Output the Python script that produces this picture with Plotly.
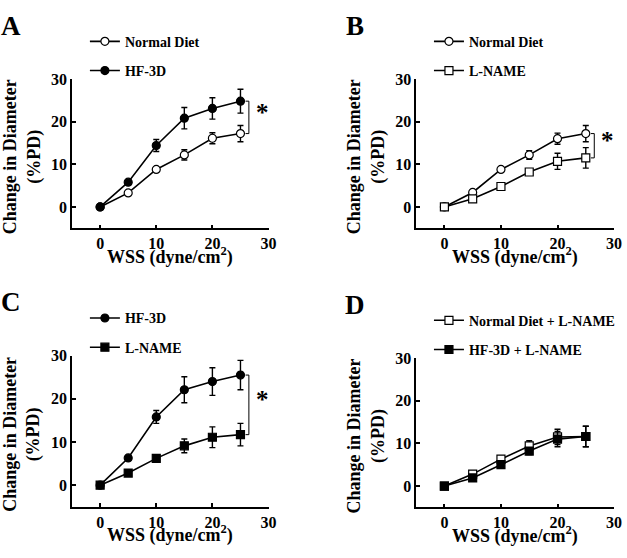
import plotly.graph_objects as go

W, H = 627, 558
FONT = "Liberation Serif"

wss = [0, 5, 10, 15, 20, 25]

a_nd = [0, 3.3, 8.8, 12.2, 16.1, 17.2]
a_nd_err = [0, 0.3, 0.4, 1.2, 1.3, 1.9]
a_hf = [0, 5.8, 14.4, 20.8, 23.1, 24.8]
a_hf_err = [0, 0.4, 1.4, 2.5, 2.5, 2.8]

b_nd = [0, 3.4, 8.8, 12.2, 16.0, 17.2]
b_nd_err = [0, 0.3, 0.4, 1.0, 1.3, 1.9]
b_ln = [0, 1.9, 4.8, 8.2, 10.7, 11.5]
b_ln_err = [0, 0.3, 0.5, 0.6, 1.9, 2.4]

c_hf = [0, 6.3, 15.8, 22.1, 24.0, 25.5]
c_hf_err = [0, 0.4, 1.5, 3.0, 3.2, 3.4]
c_ln = [0, 2.8, 6.2, 9.1, 11.1, 11.7]
c_ln_err = [0, 0.3, 0.5, 1.6, 2.4, 2.6]

d_ndln = [0, 2.8, 6.3, 9.4, 11.5, 11.6]
d_ndln_err = [0, 0.3, 0.5, 1.2, 1.8, 2.4]
d_hfln = [0, 1.9, 5.0, 8.2, 11.0, 11.6]
d_hfln_err = [0, 0.3, 0.5, 0.8, 1.8, 2.4]

tick_vals = [0, 10, 20, 30]
axis_range = [-5, 30]

panels = [
    ("A", "", "legend", [("Normal Diet", a_nd, a_nd_err, "circle", False),
                         ("HF-3D", a_hf, a_hf_err, "circle", True)], True),
    ("B", "2", "legend2", [("Normal Diet", b_nd, b_nd_err, "circle", False),
                           ("L-NAME", b_ln, b_ln_err, "square", False)], True),
    ("C", "3", "legend3", [("HF-3D", c_hf, c_hf_err, "circle", True),
                           ("L-NAME", c_ln, c_ln_err, "square", True)], True),
    ("D", "4", "legend4", [("Normal Diet + L-NAME", d_ndln, d_ndln_err, "square", False),
                           ("HF-3D + L-NAME", d_hfln, d_hfln_err, "square", True)], False),
]

# pixel layout of plot areas: (left, right, top, bottom)
boxes = [
    (73, 272, 72, 223.5),
    (421.5, 622, 72, 223.5),
    (73, 272, 352.7, 506),
    (421.5, 622, 355, 506.7),
]

fig = go.Figure()
layout = {}
annotations = []
shapes = []

tickfont = dict(family=FONT, size=16, color="black", weight="bold")

for i, ((letter, sfx, leg, series, sig), (l, r, t, b)) in enumerate(zip(panels, boxes)):
    xa = "x" + sfx
    ya = "y" + sfx
    for name, vals, err, sym, filled in series:
        fig.add_trace(go.Scatter(
            x=wss, y=vals, name=name, mode="lines+markers",
            xaxis=xa, yaxis=ya, legend=leg, legendgroup=f"{leg}-{name}",
            line=dict(color="black", width=1.6),
            marker=dict(symbol=sym, size=8,
                        color="black" if filled else "white",
                        line=dict(color="black", width=1.2)),
            error_y=dict(type="data", array=err, visible=True, color="black",
                         thickness=1.4, width=3),
        ))
    base = dict(showline=True, linecolor="black", linewidth=1.5, showgrid=False, zeroline=False,
                range=axis_range, tickvals=tick_vals, tickfont=tickfont,
                ticks="inside", ticklen=4, tickwidth=1.5, tickcolor="black")
    layout["xaxis" + sfx] = dict(domain=[l / W, r / W], anchor=ya, **base)
    layout["yaxis" + sfx] = dict(domain=[1 - b / H, 1 - t / H], anchor=xa, ticksuffix=" ", **base)

    layout[leg] = dict(x=(l + 13) / W, y=1 - (t - 54) / H, xanchor="left", yanchor="top",
                       bgcolor="rgba(0,0,0,0)", traceorder="grouped", tracegroupgap=8,
                       font=dict(family=FONT, size=14, color="black", weight="bold"))
    annotations.append(dict(text=letter, xref="paper", yref="paper", x=(l - 62) / W, y=1 - (t - 54) / H,
                            xanchor="center", yanchor="middle", showarrow=False,
                            font=dict(family=FONT, size=27, color="black", weight="bold")))
    annotations.append(dict(text="Change in Diameter<br>(%PD)", xref="paper", yref="paper",
                            x=(l - 51) / W, y=1 - ((t + b) / 2 + 3) / H, textangle=-90,
                            xanchor="center", yanchor="middle", showarrow=False,
                            font=dict(family=FONT, size=18, color="black", weight="bold")))
    annotations.append(dict(text="WSS (dyne/cm<sup>2</sup>)", xref="paper", yref="paper",
                            x=(l + r) / 2 / W, y=1 - (b + 28) / H,
                            xanchor="center", yanchor="middle", showarrow=False,
                            font=dict(family=FONT, size=18, color="black", weight="bold")))
    if sig:
        top = max(s[1][-1] for s in series)
        bot = min(s[1][-1] for s in series)
        bx = wss[-1] + 1.5
        shapes.append(dict(type="path", xref=xa, yref=ya,
                           path=f"M {bx-0.6},{top} L {bx},{top} L {bx},{bot} L {bx-0.6},{bot}",
                           line=dict(color="black", width=1)))
        annotations.append(dict(text="*", xref=xa, yref=ya, x=bx + 2.4, y=(top + bot) / 2 + 1.2,
                                xanchor="center", yanchor="middle", showarrow=False,
                                font=dict(family=FONT, size=25, color="black", weight="bold")))

fig.update_layout(
    width=W, height=H, margin=dict(l=0, r=0, t=0, b=0),
    plot_bgcolor="white", paper_bgcolor="white", showlegend=True,
    annotations=annotations, shapes=shapes, **layout,
)

fig.write_html("out.html", config={"displayModeBar": False},
               post_script="document.body.style.margin='0';document.body.style.overflow='hidden';")
